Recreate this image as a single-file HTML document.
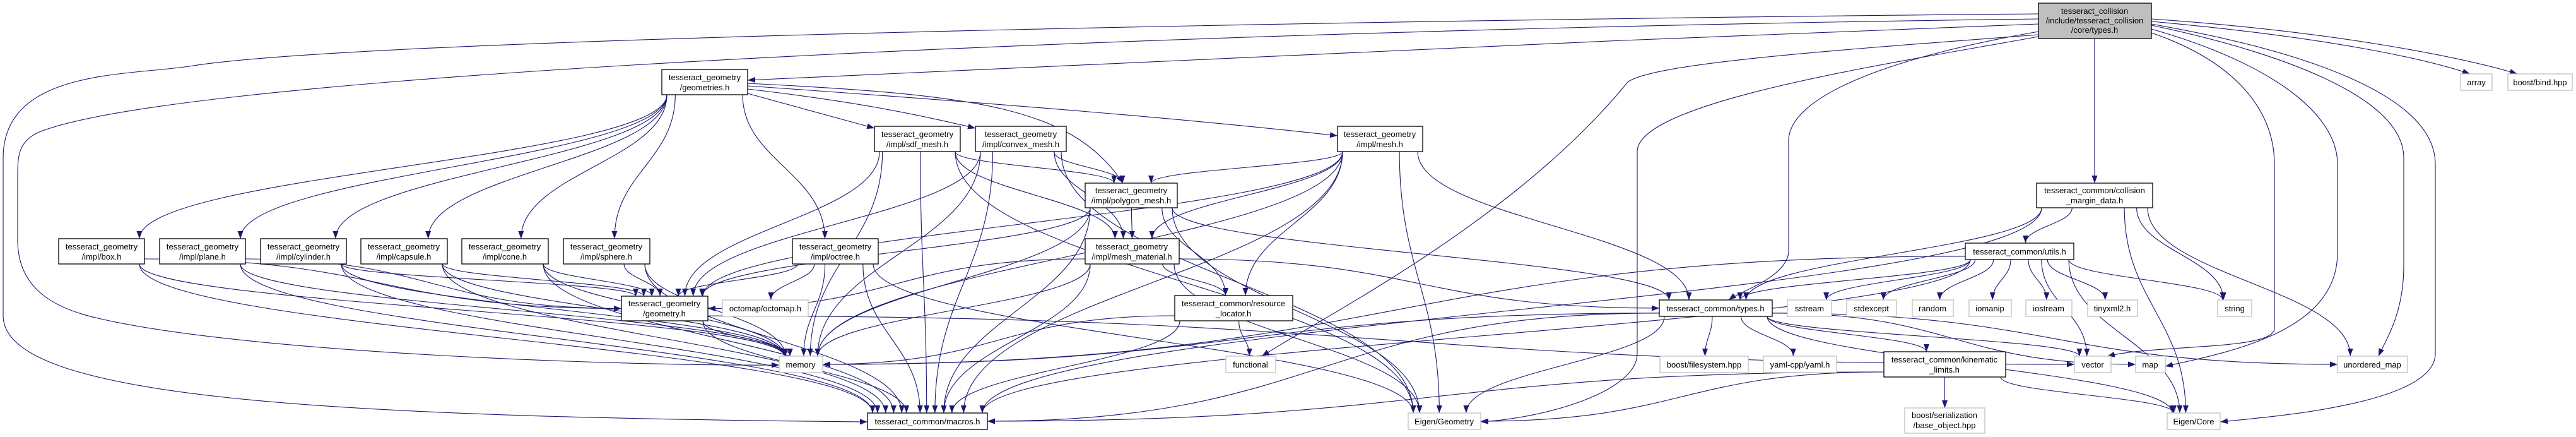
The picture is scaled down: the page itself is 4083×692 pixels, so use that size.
<!DOCTYPE html>
<html><head><meta charset="utf-8"><style>
html,body{margin:0;padding:0;background:#fff;width:4083px;height:692px;overflow:hidden}
svg{display:block}
text{font-family:"Liberation Sans",Arial,sans-serif;font-size:13px;fill:#000;text-anchor:middle}
.n{fill:#fff;stroke:#000;stroke-width:1.3}
.g{fill:#fff;stroke:#bfbfbf;stroke-width:1.3}
.t{fill:#bfbfbf;stroke:#000;stroke-width:1.3}
</style></head><body>
<svg id="s" width="4083" height="692" viewBox="0 0 4083 692" xmlns="http://www.w3.org/2000/svg">
<defs><marker id="a" markerUnits="userSpaceOnUse" markerWidth="13" markerHeight="10" refX="12" refY="4.5" orient="auto"><path d="M0,0 L12,4.5 L0,9 z" fill="#191970"/></marker></defs>
<g id="edges" fill="none" stroke="#191970" stroke-width="1.1"></g>
<g id="nodes">
<rect class="t" x="3231" y="5" width="179" height="56"/><text x="3320" y="22">tesseract_collision</text><text x="3320" y="37">/include/tesseract_collision</text><text x="3320" y="52">/core/types.h</text>
<rect class="n" x="1049" y="110" width="136" height="40"/><text x="1117" y="127">tesseract_geometry</text><text x="1117" y="143">/geometries.h</text>
<rect class="n" x="93" y="378" width="136" height="40"/><text x="161" y="395">tesseract_geometry</text><text x="161" y="411">/impl/box.h</text>
<rect class="n" x="253" y="378" width="136" height="40"/><text x="321" y="395">tesseract_geometry</text><text x="321" y="411">/impl/plane.h</text>
<rect class="n" x="413" y="378" width="136" height="40"/><text x="481" y="395">tesseract_geometry</text><text x="481" y="411">/impl/cylinder.h</text>
<rect class="n" x="572" y="378" width="137" height="40"/><text x="640" y="395">tesseract_geometry</text><text x="640" y="411">/impl/capsule.h</text>
<rect class="n" x="732" y="378" width="137" height="40"/><text x="800" y="395">tesseract_geometry</text><text x="800" y="411">/impl/cone.h</text>
<rect class="n" x="893" y="378" width="137" height="40"/><text x="961" y="395">tesseract_geometry</text><text x="961" y="411">/impl/sphere.h</text>
<rect class="n" x="1256" y="378" width="136" height="40"/><text x="1324" y="395">tesseract_geometry</text><text x="1324" y="411">/impl/octree.h</text>
<rect class="n" x="985" y="469" width="137" height="39"/><text x="1053" y="485">tesseract_geometry</text><text x="1053" y="501">/geometry.h</text>
<rect class="g" x="1145" y="475" width="136" height="26"/><text x="1213" y="493">octomap/octomap.h</text>
<rect class="g" x="1235" y="564" width="69" height="26"/><text x="1269" y="582">memory</text>
<rect class="n" x="1386" y="200" width="136" height="40"/><text x="1454" y="217">tesseract_geometry</text><text x="1454" y="233">/impl/sdf_mesh.h</text>
<rect class="n" x="1546" y="200" width="144" height="40"/><text x="1618" y="217">tesseract_geometry</text><text x="1618" y="233">/impl/convex_mesh.h</text>
<rect class="n" x="2120" y="200" width="135" height="40"/><text x="2187" y="217">tesseract_geometry</text><text x="2187" y="233">/impl/mesh.h</text>
<rect class="n" x="1720" y="290" width="146" height="39"/><text x="1793" y="306">tesseract_geometry</text><text x="1793" y="322">/impl/polygon_mesh.h</text>
<rect class="n" x="1720" y="378" width="149" height="40"/><text x="1794" y="395">tesseract_geometry</text><text x="1794" y="411">/impl/mesh_material.h</text>
<rect class="n" x="1862" y="468" width="187" height="40"/><text x="1955" y="485">tesseract_common/resource</text><text x="1955" y="501">_locator.h</text>
<rect class="g" x="1943" y="564" width="79" height="26"/><text x="1982" y="582">functional</text>
<rect class="n" x="1375" y="654" width="190" height="26"/><text x="1470" y="672">tesseract_common/macros.h</text>
<rect class="g" x="2232" y="654" width="115" height="26"/><text x="2289" y="672">Eigen/Geometry</text>
<rect class="n" x="2630" y="475" width="179" height="26"/><text x="2719" y="493">tesseract_common/types.h</text>
<rect class="g" x="2631" y="564" width="140" height="26"/><text x="2701" y="582">boost/filesystem.hpp</text>
<rect class="g" x="2795" y="564" width="116" height="26"/><text x="2853" y="582">yaml-cpp/yaml.h</text>
<rect class="n" x="2986" y="557" width="193" height="40"/><text x="3082" y="574">tesseract_common/kinematic</text><text x="3082" y="590">_limits.h</text>
<rect class="g" x="3019" y="646" width="127" height="40"/><text x="3082" y="662">boost/serialization</text><text x="3082" y="678">/base_object.hpp</text>
<rect class="g" x="3288" y="564" width="58" height="26"/><text x="3317" y="582">vector</text>
<rect class="g" x="3385" y="564" width="47" height="26"/><text x="3408" y="582">map</text>
<rect class="g" x="3705" y="564" width="111" height="26"/><text x="3760" y="582">unordered_map</text>
<rect class="g" x="3435" y="654" width="84" height="26"/><text x="3477" y="672">Eigen/Core</text>
<rect class="n" x="3228" y="290" width="184" height="39"/><text x="3320" y="306">tesseract_common/collision</text><text x="3320" y="322">_margin_data.h</text>
<rect class="n" x="3115" y="385" width="172" height="26"/><text x="3201" y="403">tesseract_common/utils.h</text>
<rect class="g" x="2833" y="475" width="70" height="26"/><text x="2868" y="493">sstream</text>
<rect class="g" x="2927" y="475" width="79" height="26"/><text x="2966" y="493">stdexcept</text>
<rect class="g" x="3031" y="475" width="65" height="26"/><text x="3063" y="493">random</text>
<rect class="g" x="3121" y="475" width="67" height="26"/><text x="3154" y="493">iomanip</text>
<rect class="g" x="3211" y="475" width="73" height="26"/><text x="3247" y="493">iostream</text>
<rect class="g" x="3309" y="475" width="79" height="26"/><text x="3348" y="493">tinyxml2.h</text>
<rect class="g" x="3515" y="475" width="54" height="26"/><text x="3542" y="493">string</text>
<rect class="g" x="3900" y="117" width="50" height="26"/><text x="3925" y="135">array</text>
<rect class="g" x="3975" y="117" width="102" height="26"/><text x="4026" y="135">boost/bind.hpp</text>
</g>
</svg>
<script>
var N={T:[3231,5,3410,61],G:[1049,110,1185,150],box:[93,378,229,418],plane:[253,378,389,418],cyl:[413,378,549,418],cap:[572,378,709,418],cone:[732,378,869,418],sph:[893,378,1030,418],oct:[1256,378,1392,418],geom:[985,469,1122,508],octo:[1145,475,1281,501],mem:[1235,564,1304,590],sdf:[1386,200,1522,240],cvx:[1546,200,1690,240],mesh:[2120,200,2255,240],poly:[1720,290,1866,329],mat:[1720,378,1869,418],rl:[1862,468,2049,508],fun:[1943,564,2022,590],mac:[1375,654,1565,680],EG:[2232,654,2347,680],types:[2630,475,2809,501],fs:[2631,564,2771,590],yaml:[2795,564,2911,590],kin:[2986,557,3179,597],ser:[3019,646,3146,686],vec:[3288,564,3346,590],map:[3385,564,3432,590],umap:[3705,564,3816,590],EC:[3435,654,3519,680],cmd:[3228,290,3412,329],utils:[3115,385,3287,411],sst:[2833,475,2903,501],stde:[2927,475,3006,501],rnd:[3031,475,3096,501],iom:[3121,475,3188,501],ios:[3211,475,3284,501],tin:[3309,475,3388,501],str:[3515,475,3569,501]};
var g=document.getElementById('edges'),NS='http://www.w3.org/2000/svg';
function P(d){var p=document.createElementNS(NS,'path');p.setAttribute('d',d);p.setAttribute('marker-end','url(#a)');g.appendChild(p);}
function cl(v,a,b){return Math.max(a,Math.min(b,v));}
function E(a,b){var A=N[a],B=N[b],acx=(A[0]+A[2])/2,bcx=(B[0]+B[2])/2;
 var sx=cl(acx+(bcx-acx)*0.3,A[0]+8,A[2]-8),sy=A[3];
 var ex=cl(bcx+(acx-bcx)*0.08,B[0]+8,B[2]-8),ey=B[1];
 var dy=ey-sy;
 if(Math.abs(bcx-acx)>6*Math.abs(dy)+300){
   ey=(B[1]+B[3])/2; ex=bcx<acx?B[2]:B[0]; sy=(A[1]+A[3])/2+(A[3]-A[1])*0.3; sx=bcx<acx?A[0]:A[2];
   var mx=(sx+ex)/2; P('M'+sx+','+sy+' C'+mx+','+sy+' '+mx+','+ey+' '+ex+','+ey); return;}
 P('M'+sx+','+sy+' C'+sx+','+(sy+dy*0.45)+' '+ex+','+(ey-dy*0.45)+' '+ex+','+ey);}
P('M3231,22 C2500,28 600,55 300,105 C200,120 5,110 5,250 L5,500 C5,630 500,660 1375,668');
P('M3231,30 C2000,45 300,110 60,210 C28,225 28,250 28,280 L28,380 C28,460 90,490 160,505 C400,560 1000,580 1235,578');
P('M3231,38 C2500,65 1500,110 1185,127');
P('M3231,50 C3000,90 2840,150 2835,220 L2835,400 C2830,440 2760,460 2740,475');
P('M3231,55 C2900,80 2620,100 2580,130 C2400,350 2100,500 2000,564');
P('M3231,58 C3000,100 2595,160 2595,240 L2595,560 C2595,620 2450,662 2347,668');
P('M3410,52 C3550,100 3605,180 3605,260 L3605,520 C3605,555 3420,545 3340,564');
P('M3410,46 C3600,100 3705,180 3705,260 L3705,400 C3705,520 3550,555 3432,580');
P('M3410,40 C3600,80 3810,150 3810,250 L3810,420 C3810,500 3780,540 3770,564');
P('M3410,38 C3650,80 3860,150 3860,260 L3860,560 C3860,640 3600,660 3519,668');
P('M3410,34 C3700,60 3850,95 3915,117');
P('M3410,30 C3700,50 3900,90 3990,117');
P('M3320,61 L3320,290');
['box','plane','cyl','cap','cone','sph','oct'].forEach(function(k){E('G',k);});
P('M1185,136 C1600,165 1900,190 2120,215');
P('M1185,141 C1350,160 1450,180 1546,203');
P('M1185,148 L1386,203');
P('M1185,132 C1550,150 1700,170 1780,290');
['box','plane','cyl','cap','cone','sph'].forEach(function(k){E(k,'geom');E(k,'mem');E(k,'mac');});
E('oct','geom');E('oct','octo');E('oct','mem');E('oct','mac');E('oct','EG');
['sdf','cvx'].forEach(function(k){E(k,'poly');E(k,'mat');E(k,'mac');E(k,'mem');E(k,'EG');E(k,'geom');});
['poly','mesh'].forEach(function(k){E(k,'rl');E(k,'geom');E(k,'mem');E(k,'mac');E(k,'EG');E(k,'types');});
E('mesh','poly');E('mesh','mat');E('poly','mat');
E('mat','rl');E('mat','types');E('mat','geom');E('mat','mem');E('mat','mac');E('mat','EG');
E('rl','fun');E('rl','mem');E('rl','mac');
E('geom','mem');E('geom','mac');E('geom','vec');
['mem','mac','fs','yaml','kin','vec','map','umap','EC','EG'].forEach(function(k){E('types',k);});
E('kin','ser');E('kin','EC');E('kin','mac');E('kin','EG');
['utils','types','str','umap','EC','mac'].forEach(function(k){E('cmd',k);});
['sst','stde','rnd','iom','ios','tin','str','vec','EC','types','mac','mem'].forEach(function(k){E('utils',k);});
</script>
</body></html>
